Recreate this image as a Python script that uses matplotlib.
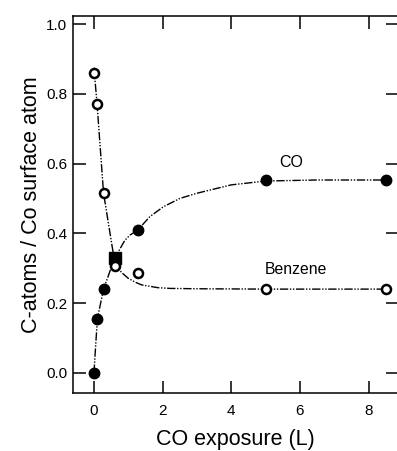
import numpy as np
import matplotlib
matplotlib.use("Agg")
import matplotlib.pyplot as plt

plt.rcParams['font.family'] = ['Liberation Sans', 'DejaVu Sans']

# measured points
co_x = [0.0, 0.1, 0.28, 1.28, 5.0, 8.5]
co_y = [0.0, 0.155, 0.240, 0.410, 0.552, 0.552]
co_sq_x = [0.6]
co_sq_y = [0.328]
bz_x = [0.0, 0.09, 0.28, 0.61, 1.28, 5.0, 8.5]
bz_y = [0.861, 0.772, 0.515, 0.307, 0.285, 0.240, 0.240]

# guide curves
co_fit_x = [0.0, 0.1, 0.28, 0.6, 0.9, 1.05, 1.28, 1.63, 2.02, 2.5, 3.0, 4.0, 5.0, 6.5, 8.5]
co_fit_y = [0.0, 0.155, 0.240, 0.328, 0.380, 0.395, 0.410, 0.448, 0.476, 0.500, 0.515, 0.539, 0.550, 0.553, 0.553]
bz_fit_x = [0.0, 0.09, 0.28, 0.61, 0.8, 1.0, 1.2, 1.39, 1.87, 2.22, 3.0, 5.0, 8.5]
bz_fit_y = [0.875, 0.772, 0.515, 0.314, 0.288, 0.271, 0.260, 0.252, 0.244, 0.242, 0.241, 0.240, 0.240]

fig = plt.figure(figsize=(3.97, 4.51), dpi=100)
ax = fig.add_axes([0.183, 0.1286, 0.819, 0.8364])

ls = (0, (6, 1.2, 1, 1.2, 1, 1.2))
ax.plot(co_fit_x, co_fit_y, color='black', lw=1.0, ls=ls)
ax.plot(bz_fit_x, bz_fit_y, color='black', lw=1.0, ls=ls)

ax.plot(co_x, co_y, 'o', color='black', ms=7.5, zorder=3)
ax.plot(co_sq_x, co_sq_y, 's', color='black', ms=9, zorder=3)
ax.plot(bz_x, bz_y, 'o', mfc='white', mec='black', mew=1.8, ms=6.5, zorder=4)

ax.text(5.74, 0.604, 'CO', fontsize=11.5, ha='center', va='center')
ax.text(5.87, 0.295, 'Benzene', fontsize=11.3, ha='center', va='center')

ax.set_xlim(-0.62, 8.85)
ax.set_ylim(-0.058, 1.024)
ax.set_xticks([0, 2, 4, 6, 8])
ax.set_yticks([0.0, 0.2, 0.4, 0.6, 0.8, 1.0])
ax.set_yticklabels(['0.0', '0.2', '0.4', '0.6', '0.8', '1.0'])

ax.tick_params(axis='both', direction='in', length=9, width=1.1,
               top=True, right=True, labelsize=11)
ax.tick_params(axis='x', pad=8)
ax.tick_params(axis='y', pad=4)
for s in ax.spines.values():
    s.set_linewidth(1.1)

ax.set_xlabel('CO exposure (L)', fontsize=15.5, labelpad=8)
ax.set_ylabel('C-atoms / Co surface atom', fontsize=15.5, labelpad=3)

fig.savefig('out.png', dpi=100)
